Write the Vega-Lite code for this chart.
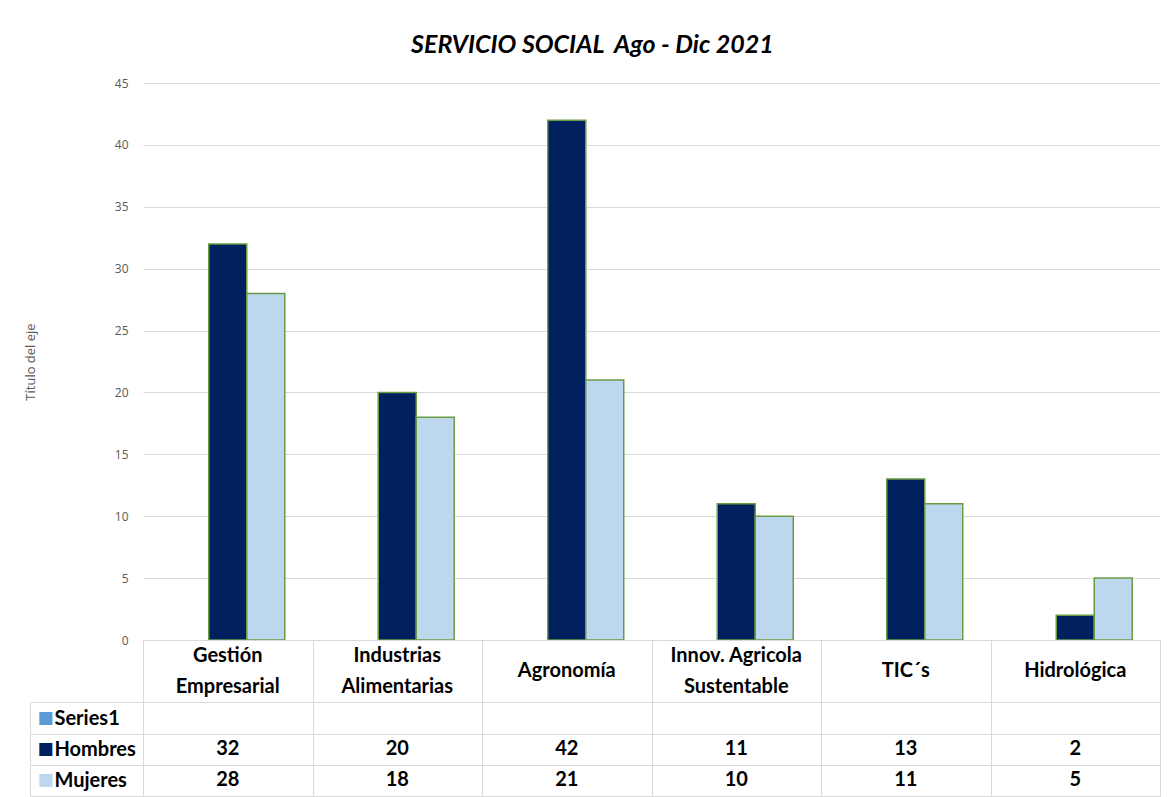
{
  "$schema": "https://vega.github.io/schema/vega-lite/v6.json",
  "background": "white",
  "padding": {"left": 24, "top": 33, "right": 10, "bottom": 0},
  "title": {
    "text": "SERVICIO SOCIAL\u00a0 Ago - Dic 2021",
    "font": "Lato",
    "fontSize": 25,
    "fontWeight": "bold",
    "fontStyle": "italic",
    "color": "#000000",
    "anchor": "middle",
    "offset": 19
  },
  "datasets": {
    "valores": [
      {"carrera": "Gestión Empresarial", "serie": "Hombres", "valor": 32},
      {"carrera": "Gestión Empresarial", "serie": "Mujeres", "valor": 28},
      {"carrera": "Industrias Alimentarias", "serie": "Hombres", "valor": 20},
      {"carrera": "Industrias Alimentarias", "serie": "Mujeres", "valor": 18},
      {"carrera": "Agronomía", "serie": "Hombres", "valor": 42},
      {"carrera": "Agronomía", "serie": "Mujeres", "valor": 21},
      {"carrera": "Innov. Agricola Sustentable", "serie": "Hombres", "valor": 11},
      {"carrera": "Innov. Agricola Sustentable", "serie": "Mujeres", "valor": 10},
      {"carrera": "TIC´s", "serie": "Hombres", "valor": 13},
      {"carrera": "TIC´s", "serie": "Mujeres", "valor": 11},
      {"carrera": "Hidrológica", "serie": "Hombres", "valor": 2},
      {"carrera": "Hidrológica", "serie": "Mujeres", "valor": 5}
    ],
    "carreras": [
      {"carrera": "Gestión Empresarial", "linea1": "Gestión", "linea2": "Empresarial", "unica": ""},
      {"carrera": "Industrias Alimentarias", "linea1": "Industrias", "linea2": "Alimentarias", "unica": ""},
      {"carrera": "Agronomía", "linea1": "", "linea2": "", "unica": "Agronomía"},
      {"carrera": "Innov. Agricola Sustentable", "linea1": "Innov. Agricola", "linea2": "Sustentable", "unica": ""},
      {"carrera": "TIC´s", "linea1": "", "linea2": "", "unica": "TIC´s"},
      {"carrera": "Hidrológica", "linea1": "", "linea2": "", "unica": "Hidrológica"}
    ],
    "series": [
      {"serie": "Series1"},
      {"serie": "Hombres"},
      {"serie": "Mujeres"}
    ]
  },
  "bounds": "flush",
  "spacing": 0,
  "vconcat": [
    {
      "width": 1017,
      "height": 557,
      "data": {"name": "valores"},
      "mark": {"type": "bar", "stroke": "#6B9A45", "strokeWidth": 1.5},
      "encoding": {
        "x": {
          "field": "carrera",
          "type": "nominal",
          "sort": null,
          "scale": {"paddingInner": 0.3274, "paddingOuter": 0.1637},
          "axis": null
        },
        "xOffset": {
          "field": "serie",
          "type": "nominal",
          "scale": {"domain": ["Series1", "Hombres", "Mujeres"], "paddingInner": 0, "paddingOuter": 0}
        },
        "y": {
          "field": "valor",
          "type": "quantitative",
          "scale": {"domain": [0, 45], "nice": false},
          "axis": {
            "values": [0, 5, 10, 15, 20, 25, 30, 35, 40, 45],
            "grid": true,
            "gridColor": "#d9d9d9",
            "gridWidth": 1,
            "domain": false,
            "ticks": false,
            "labelColor": "#595959",
            "labelFont": "Open Sans",
            "labelFontSize": 12,
            "labelPadding": 15,
            "title": "Título del eje",
            "titleColor": "#595959",
            "titleFont": "Open Sans",
            "titleFontSize": 13,
            "titleFontWeight": "normal",
            "titlePadding": 77
          }
        },
        "color": {
          "field": "serie",
          "type": "nominal",
          "scale": {"domain": ["Hombres", "Mujeres"], "range": ["#002060", "#BDD7EE"]},
          "legend": null
        }
      }
    },
    {
      "width": 1017,
      "height": 156,
      "view": {"stroke": "#d9d9d9", "strokeWidth": 1},
      "resolve": {"axis": {"y": "independent"}},
      "layer": [
        {
          "data": {"name": "valores"},
          "mark": {"type": "text", "font": "Lato", "fontSize": 20, "fontWeight": "bold", "color": "#000000", "baseline": "middle"},
          "encoding": {
            "x": {
              "field": "carrera",
              "type": "nominal",
              "sort": null,
              "scale": {"type": "band", "paddingInner": 0, "paddingOuter": 0},
              "axis": {"orient": "top", "labels": false, "ticks": false, "domain": false, "title": null, "grid": true, "gridColor": "#d9d9d9", "tickBand": "extent"}
            },
            "y": {
              "field": "serie",
              "type": "nominal",
              "scale": {"type": "band", "domain": ["h1", "h2", "Series1", "Hombres", "Mujeres"], "paddingInner": 0, "paddingOuter": 0},
              "axis": {
                "orient": "left",
                "title": null,
                "domain": false,
                "grid": true,
                "tickBand": "extent",
                "gridColor": {"condition": {"test": "datum.value === 'h1'", "value": "transparent"}, "value": "#d9d9d9"},
                "ticks": true,
                "tickSize": 113,
                "tickColor": {"condition": {"test": "datum.value === 'h1' || datum.extra", "value": "transparent"}, "value": "#d9d9d9"},
                "labelExpr": "datum.value === 'h1' || datum.value === 'h2' ? '' : datum.value",
                "labelAlign": "left",
                "labelPadding": -24,
                "labelFont": "Lato",
                "labelFontSize": 20,
                "labelFontWeight": "bold",
                "labelColor": "#000000"
              }
            },
            "text": {"field": "valor", "type": "quantitative"}
          }
        },
        {
          "data": {"name": "carreras"},
          "mark": {"type": "text", "font": "Lato", "fontSize": 20, "fontWeight": "bold", "color": "#000000", "baseline": "middle"},
          "encoding": {
            "x": {"field": "carrera", "type": "nominal", "sort": null},
            "y": {"datum": "h1", "type": "nominal", "axis": null},
            "text": {"field": "linea1"}
          }
        },
        {
          "data": {"name": "carreras"},
          "mark": {"type": "text", "font": "Lato", "fontSize": 20, "fontWeight": "bold", "color": "#000000", "baseline": "middle"},
          "encoding": {
            "x": {"field": "carrera", "type": "nominal", "sort": null},
            "y": {"datum": "h2", "type": "nominal", "axis": null},
            "text": {"field": "linea2"}
          }
        },
        {
          "data": {"name": "carreras"},
          "mark": {"type": "text", "font": "Lato", "fontSize": 20, "fontWeight": "bold", "color": "#000000", "baseline": "middle"},
          "encoding": {
            "x": {"field": "carrera", "type": "nominal", "sort": null},
            "y": {"datum": "h2", "type": "nominal", "bandPosition": 0, "axis": null},
            "text": {"field": "unica"}
          }
        },
        {
          "data": {"name": "series"},
          "mark": {"type": "text", "text": ""},
          "encoding": {
            "y": {
              "field": "serie",
              "type": "nominal",
              "axis": {
                "orient": "left",
                "offset": 113,
                "title": null,
                "domain": true,
                "domainColor": "#d9d9d9",
                "domainDash": [0, 62.4, 400],
                "ticks": false,
                "grid": false,
                "labelExpr": "datum.value === 'h1' || datum.value === 'h2' ? '' : '■'",
                "labelAlign": "left",
                "labelPadding": -7,
                "labelFont": "DejaVu Sans",
                "labelFontSize": 17,
                "labelColor": {
                  "condition": [
                    {"test": "datum.value === 'Hombres'", "value": "#002060"},
                    {"test": "datum.value === 'Mujeres'", "value": "#BDD7EE"}
                  ],
                  "value": "#5B9BD5"
                }
              }
            }
          }
        }
      ]
    }
  ],
  "config": {"view": {"stroke": null}, "font": "Lato"}
}
